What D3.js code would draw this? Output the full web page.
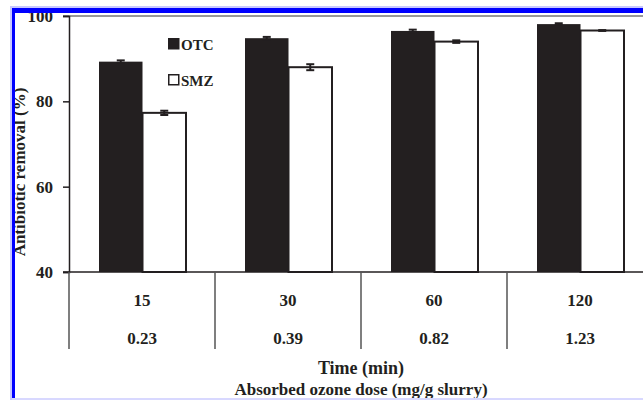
<!DOCTYPE html>
<html>
<head>
<meta charset="utf-8">
<script src="https://cdn.jsdelivr.net/npm/d3@7"></script>
<style>
  body { margin: 0; background: #fff; }
  text { font-family: "Liberation Serif", "Times New Roman", serif; font-weight: bold; fill: #231f20; }
</style>
</head>
<body>
<div class="canvas_area"></div>
<script>
// DATA
const times = ["15", "30", "60", "120"];
const doses = ["0.23", "0.39", "0.82", "1.23"];
const series = ["OTC", "SMZ"];
const otcValues = [89.3, 94.8, 96.5, 98.1];
const otcErrors = [0.3, 0.3, 0.3, 0.2];
const smzValues = [77.3, 88.0, 94.0, 96.6];
const smzErrors = [0.5, 0.7, 0.3, 0.1];
const yTicks = [40, 60, 80, 100];

const W = 643, H = 400;
const ink = "#231f20";

const svg = d3.select(".canvas_area").append("svg")
    .attr("width", W).attr("height", H);

// SCALES
const Y = d3.scaleLinear().domain([40, 100]).range([272, 16]);
const X = d3.scaleBand().domain(times).range([69, 653]).padding(0);
const XS = d3.scaleBand().domain(series).range([30, 117]).padding(0);

// TOP FRAME LINE
svg.append("line")
    .attr("x1", 63).attr("x2", W)
    .attr("y1", Y(100)).attr("y2", Y(100))
    .style("stroke", "#777").style("stroke-width", 1.5);

// BARS
const rows = times.map((t, i) => ({
    t: t,
    vals: [
        {s: "OTC", v: otcValues[i], e: otcErrors[i]},
        {s: "SMZ", v: smzValues[i], e: smzErrors[i]}
    ]
}));

const groups = svg.append("g").selectAll("g")
    .data(rows).enter().append("g")
    .attr("transform", d => `translate(${X(d.t)},0)`);

groups.selectAll("rect")
    .data(d => d.vals).enter().append("rect")
    .attr("x", d => XS(d.s))
    .attr("y", d => Y(d.v))
    .attr("width", d => XS.bandwidth())
    .attr("height", d => Y(40) - Y(d.v))
    .style("fill", d => d.s === "OTC" ? ink : "#fff")
    .style("stroke", ink)
    .style("stroke-width", d => d.s === "OTC" ? 0 : 2);

// ERROR BARS
const err = groups.selectAll(".err")
    .data(d => d.vals).enter().append("g").classed("err", true);
err.append("line")
    .attr("x1", d => XS(d.s) + XS.bandwidth() / 2)
    .attr("x2", d => XS(d.s) + XS.bandwidth() / 2)
    .attr("y1", d => Y(d.v + d.e))
    .attr("y2", d => Y(d.v - d.e))
    .style("stroke", ink).style("stroke-width", 2);
err.selectAll(".cap")
    .data(d => [d.v + d.e, d.v - d.e].map(y => ({s: d.s, y: y})))
    .enter().append("line").classed("cap", true)
    .attr("x1", d => XS(d.s) + XS.bandwidth() / 2 - 4)
    .attr("x2", d => XS(d.s) + XS.bandwidth() / 2 + 4)
    .attr("y1", d => Y(d.y)).attr("y2", d => Y(d.y))
    .style("stroke", ink).style("stroke-width", 2);

// Y AXIS
const yAxis = svg.append("g")
    .attr("transform", `translate(69,0)`)
    .call(d3.axisLeft(Y).tickValues(yTicks).tickSize(6).tickPadding(10));
yAxis.select(".domain").style("stroke", ink).style("stroke-width", 1.5);
yAxis.selectAll(".tick line").style("stroke", ink).style("stroke-width", 1.5);
yAxis.selectAll(".tick text")
    .style("font-size", "17px")
    .style("font-family", "Liberation Serif")
    .style("font-weight", "bold")
    .style("fill", ink);

// X AXIS LINE
svg.append("line")
    .attr("x1", 63).attr("x2", W)
    .attr("y1", Y(40)).attr("y2", Y(40))
    .style("stroke", ink).style("stroke-width", 1.5);

// CATEGORY SEPARATORS
const seps = times.map(t => X(t)).concat([X.range()[1]]);
svg.append("g").selectAll("line")
    .data(seps).enter().append("line")
    .attr("x1", d => d).attr("x2", d => d)
    .attr("y1", Y(40)).attr("y2", 349)
    .style("stroke", "#555").style("stroke-width", 1.5);

// CATEGORY LABELS
svg.append("g").selectAll("text")
    .data(times).enter().append("text")
    .attr("x", d => X(d) + X.bandwidth() / 2)
    .attr("y", 306)
    .attr("text-anchor", "middle")
    .style("font-size", "17px")
    .text(d => d);
svg.append("g").selectAll("text")
    .data(doses).enter().append("text")
    .attr("x", (d, i) => X(times[i]) + X.bandwidth() / 2)
    .attr("y", 344)
    .attr("text-anchor", "middle")
    .style("font-size", "17px")
    .text(d => d);

// AXIS TITLES
const midX = X("60");
svg.append("text")
    .attr("x", midX).attr("y", 374)
    .attr("text-anchor", "middle")
    .style("font-size", "18px")
    .text("Time (min)");
svg.append("text")
    .attr("x", midX).attr("y", 395)
    .attr("text-anchor", "middle")
    .style("font-size", "17px")
    .text("Absorbed ozone dose (mg/g slurry)");
svg.append("text")
    .attr("transform", `translate(25,172) rotate(-90)`)
    .attr("text-anchor", "middle")
    .style("font-size", "17px")
    .text("Antibiotic removal (%)");

// LEGEND
const legend = svg.append("g").attr("transform", "translate(168,38)");
const legendY = d3.scaleBand().domain(series).range([0, 72]).padding(0);
const li = legend.selectAll("g").data(series).enter().append("g")
    .attr("transform", d => `translate(0,${legendY(d)})`);
li.append("rect")
    .attr("x", 0.75).attr("y", 0.75)
    .attr("width", 10).attr("height", 10)
    .style("fill", d => d === "OTC" ? ink : "#fff")
    .style("stroke", ink).style("stroke-width", 1.5);
li.append("text")
    .attr("x", 13).attr("y", 11.5)
    .style("font-size", "15px")
    .text(d => d);

// BLUE BORDER (crop frame)
svg.append("rect").attr("x", 10).attr("y", 6).attr("width", W - 10).attr("height", 2).style("fill", "#c8c8ff");
svg.append("rect").attr("x", 11).attr("y", 8).attr("width", W - 11).attr("height", 5).style("fill", "#0000ff");
svg.append("rect").attr("x", 10).attr("y", 6).attr("width", 2).attr("height", H - 6).style("fill", "#c8c8ff");
svg.append("rect").attr("x", 12).attr("y", 8).attr("width", 3).attr("height", H - 8).style("fill", "#0000ff");
svg.append("rect").attr("x", 12).attr("y", 398).attr("width", W - 12).attr("height", 2).style("fill", "#d8d8ff");
</script>
</body>
</html>
